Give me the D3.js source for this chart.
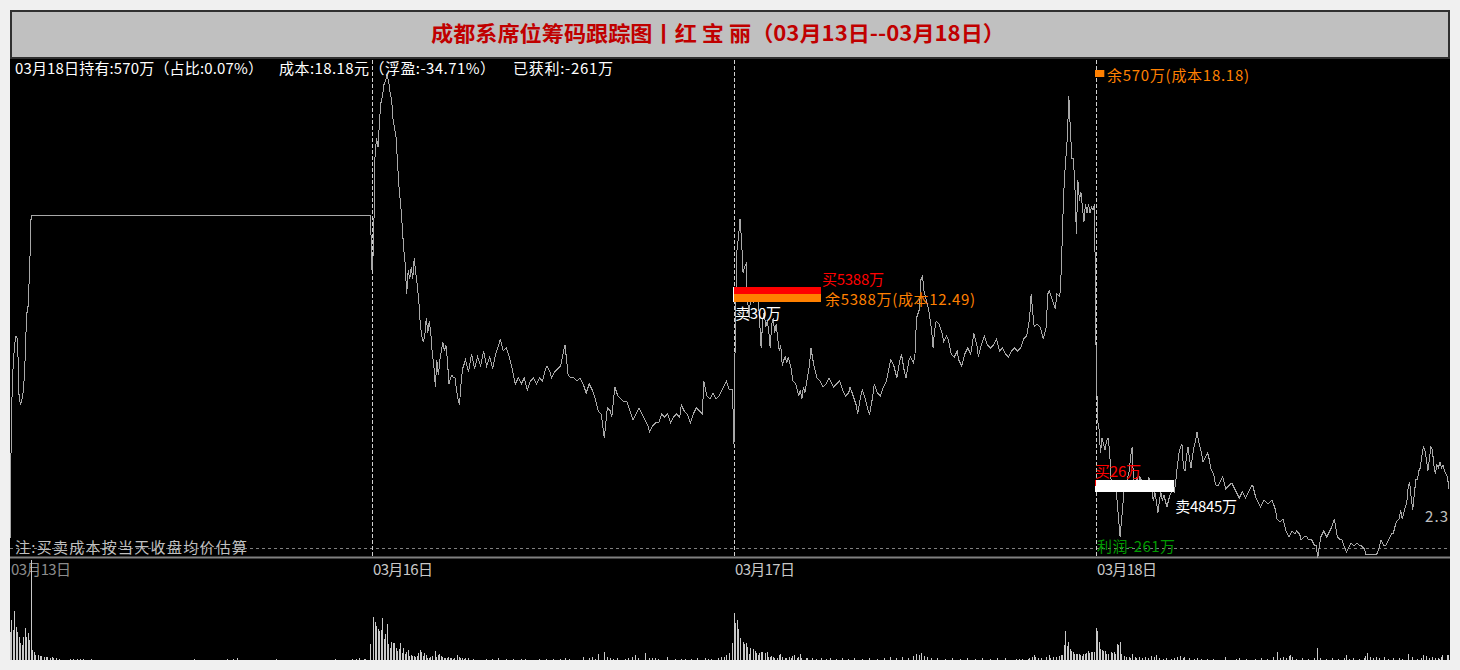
<!DOCTYPE html>
<html><head><meta charset="utf-8">
<script src="https://cdn.jsdelivr.net/npm/d3@7"></script>
<style>html,body{margin:0;padding:0;background:#F0F0F0;overflow:hidden}svg{display:block}</style>
</head><body><svg id="c" width="1460" height="670"></svg>
<script>
// ---------------- data ----------------
const titleText = "成都系席位筹码跟踪图丨红  宝  丽（03月13日--03月18日）";
const dayLabels = ["03月13日", "03月16日", "03月17日", "03月18日"];
const headerTexts = ["03月18日持有:570万（占比:0.07%）", "成本:18.18元（浮盈:-34.71%）", "已获利:-261万"];
const noteText = "注:买卖成本按当天收盘均价估算";

// minute-of-day, price (yuan)
const price0313 = [[0,11.68],[1,12.11],[2,12.25],[3,12.33],[4,12.36],[5,12.35],[6,12.16],[7,12.13],[8,12.15],[9,12.18],[10,12.28],[11,12.43],[12,12.46],[13,12.58],[14,12.76],[239,12.76]];
const price0316 = [[0,12.58],[1,12.65],[2,12.96],[3,13.02],[4,12.99],[5,13.08],[6,13.14],[7,13.16],[8,13.20],[9,13.21],[10,13.23],[11,13.21],[12,13.17],[13,13.15],[14,13.08],[15,13.05],[16,13.02],[17,12.93],[18,12.85],[19,12.80],[20,12.73],[21,12.65],[22,12.60],[23,12.50],[24,12.58],[25,12.55],[26,12.59],[27,12.55],[28,12.62],[29,12.57],[30,12.53],[31,12.48],[32,12.40],[33,12.36],[34,12.34],[35,12.36],[36,12.42],[37,12.37],[38,12.41],[39,12.37],[40,12.30],[41,12.26],[42,12.19],[43,12.28],[44,12.23],[45,12.28],[46,12.31],[47,12.34],[48,12.31],[49,12.33],[50,12.28],[51,12.20],[52,12.22],[53,12.23],[54,12.22],[55,12.22],[56,12.18],[57,12.15],[58,12.13],[59,12.20],[60,12.25],[62,12.28],[64,12.24],[66,12.30],[68,12.25],[70,12.29],[72,12.26],[74,12.31],[76,12.26],[78,12.29],[80,12.25],[82,12.30],[84,12.33],[85,12.35],[87,12.31],[89,12.32],[91,12.29],[93,12.25],[95,12.20],[97,12.22],[99,12.20],[101,12.22],[103,12.18],[105,12.21],[107,12.22],[109,12.20],[111,12.22],[113,12.21],[115,12.25],[116,12.26],[118,12.24],[119,12.22],[121,12.24],[123,12.25],[125,12.26],[127,12.31],[128,12.33],[129,12.28],[130,12.23],[132,12.22],[134,12.22],[136,12.21],[138,12.22],[140,12.20],[142,12.17],[144,12.20],[146,12.18],[148,12.15],[150,12.11],[152,12.10],[154,12.02],[156,12.12],[158,12.11],[159,12.09],[161,12.19],[163,12.16],[165,12.15],[167,12.14],[169,12.14],[171,12.11],[173,12.08],[175,12.10],[177,12.12],[179,12.10],[181,12.08],[183,12.06],[184,12.04],[186,12.06],[188,12.07],[190,12.07],[192,12.10],[194,12.09],[196,12.10],[198,12.07],[200,12.09],[202,12.10],[204,12.09],[205,12.13],[207,12.11],[209,12.10],[211,12.07],[213,12.10],[215,12.12],[217,12.11],[219,12.10],[220,12.21],[222,12.16],[224,12.15],[226,12.17],[228,12.15],[230,12.16],[231,12.17],[233,12.19],[234,12.20],[235,12.21],[237,12.18],[239,12.18]];
const price0317 = [[0,12.00],[1,12.45],[2,12.65],[3,12.69],[4,12.75],[5,12.68],[6,12.57],[7,12.59],[8,12.60],[9,12.48],[10,12.42],[11,12.49],[12,12.52],[13,12.47],[14,12.51],[15,12.52],[16,12.49],[17,12.41],[18,12.32],[19,12.41],[20,12.44],[21,12.39],[22,12.41],[23,12.38],[24,12.32],[25,12.40],[26,12.42],[27,12.37],[28,12.40],[29,12.35],[30,12.31],[31,12.33],[32,12.26],[33,12.28],[34,12.29],[35,12.27],[36,12.29],[37,12.27],[38,12.25],[39,12.21],[41,12.20],[43,12.16],[44,12.18],[45,12.15],[46,12.19],[47,12.17],[48,12.20],[50,12.26],[51,12.32],[53,12.26],[54,12.24],[55,12.22],[57,12.21],[59,12.19],[61,12.20],[63,12.22],[65,12.20],[66,12.19],[68,12.20],[70,12.21],[72,12.18],[74,12.16],[76,12.17],[77,12.19],[79,12.16],[81,12.13],[82,12.10],[84,12.16],[85,12.18],[87,12.15],[89,12.11],[90,12.10],[92,12.16],[93,12.20],[95,12.17],[97,12.16],[99,12.19],[101,12.21],[103,12.26],[104,12.28],[106,12.26],[108,12.22],[110,12.28],[111,12.30],[113,12.24],[114,12.22],[116,12.28],[117,12.29],[119,12.27],[120,12.30],[121,12.42],[123,12.45],[124,12.55],[125,12.56],[126,12.51],[127,12.49],[129,12.45],[131,12.38],[132,12.32],[133,12.38],[134,12.41],[136,12.40],[138,12.37],[139,12.34],[141,12.36],[142,12.35],[144,12.30],[146,12.29],[148,12.31],[149,12.28],[151,12.26],[153,12.30],[155,12.32],[157,12.30],[159,12.37],[161,12.33],[162,12.29],[164,12.33],[166,12.36],[168,12.33],[170,12.32],[172,12.33],[174,12.35],[176,12.31],[178,12.32],[180,12.30],[182,12.29],[184,12.31],[186,12.32],[188,12.31],[190,12.32],[192,12.35],[194,12.36],[196,12.42],[197,12.50],[199,12.39],[201,12.40],[203,12.39],[205,12.35],[206,12.37],[207,12.39],[208,12.50],[209,12.51],[211,12.48],[213,12.45],[214,12.50],[216,12.49],[217,12.58],[218,12.75],[219,12.88],[220,12.95],[221,13.02],[222,13.16],[223,13.05],[224,12.95],[225,12.95],[226,12.86],[227,12.70],[228,12.88],[229,12.81],[230,12.84],[231,12.79],[232,12.74],[233,12.80],[234,12.77],[235,12.80],[236,12.77],[237,12.79],[238,12.78],[239,12.80]];
const price0318 = [[0,12.33],[1,12.08],[2,12.05],[3,11.97],[4,12.02],[5,12.00],[6,11.98],[7,12.01],[8,12.02],[9,11.98],[10,11.88],[11,11.87],[12,11.86],[13,11.86],[14,11.81],[15,11.75],[16,11.69],[17,11.75],[18,11.81],[19,11.87],[20,11.85],[21,11.89],[22,11.91],[23,11.96],[24,11.99],[25,11.86],[26,11.87],[27,11.89],[28,11.87],[29,11.89],[30,11.88],[31,11.86],[32,11.88],[33,11.86],[34,11.87],[35,11.89],[36,11.87],[37,11.85],[38,11.81],[39,11.84],[40,11.81],[41,11.77],[42,11.81],[43,11.84],[44,11.81],[45,11.83],[46,11.81],[47,11.79],[48,11.81],[49,11.83],[50,11.84],[51,11.85],[52,11.84],[53,11.88],[54,11.93],[55,11.97],[56,11.99],[57,12.00],[58,11.92],[59,11.91],[60,11.96],[61,11.99],[62,11.95],[63,11.92],[64,11.96],[65,11.99],[66,12.01],[67,12.04],[68,12.01],[69,11.99],[70,11.97],[71,11.94],[72,11.95],[73,11.96],[74,11.97],[75,11.95],[76,11.92],[77,11.91],[78,11.90],[79,11.87],[80,11.86],[81,11.86],[82,11.87],[83,11.88],[84,11.89],[85,11.87],[86,11.85],[88,11.86],[90,11.87],[91,11.86],[93,11.84],[95,11.82],[97,11.84],[99,11.82],[100,11.83],[102,11.85],[103,11.86],[104,11.86],[106,11.82],[107,11.81],[109,11.79],[111,11.81],[112,11.81],[114,11.80],[116,11.81],[117,11.81],[119,11.78],[120,11.75],[122,11.74],[124,11.75],[126,11.71],[128,11.69],[130,11.71],[132,11.70],[133,11.71],[135,11.70],[136,11.68],[138,11.69],[140,11.69],[141,11.68],[143,11.68],[145,11.66],[146,11.66],[147,11.62],[149,11.69],[151,11.71],[153,11.69],[155,11.71],[156,11.72],[158,11.75],[160,11.69],[162,11.68],[163,11.68],[166,11.64],[169,11.67],[171,11.66],[173,11.67],[175,11.66],[176,11.66],[178,11.65],[179,11.63],[181,11.63],[183,11.63],[186,11.63],[188,11.66],[189,11.68],[191,11.66],[192,11.66],[194,11.68],[196,11.70],[197,11.70],[199,11.74],[201,11.75],[202,11.78],[203,11.75],[205,11.79],[206,11.80],[207,11.86],[208,11.87],[209,11.82],[210,11.78],[211,11.83],[212,11.88],[213,11.88],[214,11.91],[215,11.92],[216,11.96],[217,11.99],[218,11.98],[219,11.95],[220,11.91],[221,11.95],[222,11.99],[223,11.98],[224,11.93],[225,11.90],[226,11.93],[227,11.92],[228,11.94],[229,11.92],[230,11.93],[231,11.91],[232,11.90],[233,11.89],[234,11.85]];

// minute-of-day, volume (万股)
const vol0313 = [[0,280],[1,400],[2,300],[3,490],[4,330],[5,280],[6,230],[7,170],[8,150],[9,230],[10,320],[11,230],[12,270],[13,200],[14,1000],[15,100],[16,80],[17,50],[19,50],[20,40],[21,40],[23,30],[24,30],[25,30],[27,20],[28,30],[29,20],[31,20],[33,10],[40,10],[42,10],[45,10],[47,10],[49,10],[54,10],[122,10],[144,10],[148,10],[151,20],[177,10],[216,10],[227,10],[230,10],[232,20],[235,10],[236,10],[239,160]];
const vol0316 = [[1,430],[2,380],[3,340],[4,310],[5,290],[6,300],[7,420],[8,210],[9,260],[10,360],[11,160],[12,120],[13,180],[14,170],[15,170],[16,120],[17,90],[18,110],[19,170],[20,70],[21,120],[22,60],[23,80],[24,100],[25,40],[26,50],[27,40],[28,40],[29,30],[30,40],[31,70],[32,100],[33,80],[34,40],[35,70],[36,50],[37,20],[38,20],[39,30],[40,40],[42,90],[43,30],[44,50],[45,60],[46,40],[47,30],[48,20],[49,20],[50,20],[51,30],[52,20],[53,20],[54,10],[55,20],[57,50],[58,30],[59,20],[60,20],[61,10],[62,20],[64,20],[67,10],[76,10],[80,10],[84,20],[89,10],[94,10],[99,10],[102,10],[111,10],[116,10],[120,10],[125,10],[128,20],[131,10],[140,30],[144,20],[146,30],[148,10],[150,60],[154,80],[156,30],[158,20],[160,10],[163,20],[168,10],[170,20],[173,30],[175,50],[177,20],[181,70],[184,20],[186,20],[188,20],[190,10],[196,30],[201,10],[205,10],[208,10],[212,10],[216,20],[221,20],[223,10],[225,10],[230,20],[232,30],[234,30],[235,50],[237,70],[239,170]];
const vol0317 = [[0,470],[1,370],[2,400],[3,310],[4,220],[6,180],[7,160],[8,170],[9,130],[10,60],[11,120],[13,110],[14,90],[15,70],[16,50],[17,70],[18,80],[19,80],[21,70],[22,80],[23,30],[24,30],[25,40],[26,30],[27,20],[29,20],[30,50],[31,60],[32,30],[34,20],[35,20],[37,30],[38,20],[39,40],[40,50],[42,20],[43,30],[44,60],[45,20],[48,20],[49,20],[52,20],[55,10],[58,20],[61,10],[64,20],[68,10],[72,20],[76,10],[80,20],[85,10],[90,20],[95,10],[100,20],[104,30],[108,20],[112,30],[116,20],[119,40],[121,60],[123,50],[124,70],[126,40],[128,30],[131,20],[135,20],[140,10],[145,20],[150,10],[155,20],[160,10],[165,20],[170,10],[175,20],[180,20],[187,10],[189,10],[191,10],[195,10],[196,20],[198,30],[199,50],[200,30],[202,20],[204,20],[207,30],[209,50],[210,20],[212,30],[214,30],[216,40],[217,50],[218,50],[219,150],[220,290],[221,140],[222,180],[223,110],[224,90],[225,80],[226,60],[227,60],[228,60],[229,60],[230,50],[231,40],[232,60],[233,60],[234,70],[235,90],[236,70],[237,80],[238,80],[239,80]];
const vol0318 = [[0,320],[1,290],[2,180],[3,110],[4,100],[5,90],[6,90],[7,60],[8,60],[10,80],[11,70],[12,80],[13,60],[14,160],[15,150],[16,180],[17,60],[19,40],[20,30],[22,30],[23,20],[24,60],[26,30],[27,20],[29,30],[31,20],[33,30],[35,20],[37,40],[39,30],[40,50],[42,20],[45,10],[47,20],[50,10],[52,20],[54,30],[56,40],[58,20],[59,30],[62,20],[65,10],[67,20],[70,10],[74,10],[78,10],[86,30],[93,10],[95,20],[100,10],[106,10],[110,20],[114,10],[118,30],[120,80],[122,20],[124,30],[126,20],[128,40],[129,50],[130,30],[133,10],[137,20],[141,10],[145,20],[147,120],[149,20],[153,10],[157,20],[161,10],[165,20],[166,50],[168,10],[171,20],[175,10],[178,20],[179,40],[180,70],[182,30],[184,20],[186,30],[188,20],[191,30],[194,10],[197,20],[201,20],[203,10],[207,60],[210,30],[213,10],[216,20],[217,50],[219,40],[221,20],[223,30],[225,20],[227,20],[228,10],[229,30],[230,50],[233,50],[234,50]];

// position changes (万) per day, index = day
const buyAmount  = [0, 0, 5388, 26];
const sellAmount = [0, 0, 30, 4845];
const holdAmount = [0, 0, 5388, 570];
const holdCost   = [null, null, 12.49, 18.18];
const tradePrice = [null, null, 12.49, 11.86];
const profitText = "利润-261万";
const lastPriceText = "2.3";

// ---------------- drawing ----------------
const svg = d3.select("#c");
const FONT = "'Noto Sans CJK SC','Noto Sans',sans-serif";
const W = 1460, H = 670;
const L = 10, R = 1450, T = 59, B = 660, SEP = 557;

svg.append("rect").attr("x",0).attr("y",0).attr("width",W).attr("height",H).attr("fill","#F0F0F0");
svg.append("rect").attr("x",L).attr("y",T).attr("width",R-L).attr("height",B-T).attr("fill","#000");
svg.append("rect").attr("x",L+1).attr("y",11).attr("width",R-L-2).attr("height",T-12)
  .attr("fill","#C0C0C0").attr("stroke","#303030").attr("stroke-width",2);

svg.append("text").attr("x",431).attr("y",41).attr("fill","#C00000")
  .attr("font-family",FONT).attr("font-size",21).attr("font-weight","bold")
  .attr("textLength",574).attr("lengthAdjust","spacingAndGlyphs").text(titleText);

const defs = svg.append("defs");
defs.append("clipPath").attr("id","clip").append("rect").attr("x",L).attr("y",T).attr("width",R-L).attr("height",B-T);
const g = svg.append("g").attr("clip-path","url(#clip)");

const x = d3.scaleLinear().domain([0, 960]).range([10, 1458]);
const y = d3.scaleLinear().domain([11.6233, 13.28]).range([SEP, 60]);
const yv = d3.scaleLinear().domain([0, 1020]).range([B, 558]);
const barW = d3.scaleLinear().domain([0, 5388]).range([0, 88]);

const priceDays = [price0313, price0316, price0317, price0318];
const volDays = [vol0313, vol0316, vol0317, vol0318];
const allPrice = priceDays.flatMap((d,i)=>d.map(p=>({m:i*240+p[0], v:p[1]})));
const allVol = volDays.flatMap((d,i)=>d.map(p=>({m:i*240+p[0], v:p[1]})));

// horizontal dashed reference + separator
g.append("line").attr("x1",L).attr("x2",R).attr("y1",548.5).attr("y2",548.5)
  .attr("stroke","#808080").attr("stroke-dasharray","3,3");
g.append("line").attr("x1",L).attr("x2",R).attr("y1",557.5).attr("y2",557.5)
  .attr("stroke","#808080").attr("stroke-width",2);

// day separators
[1,2,3].forEach(d=>{
  const xx = Math.round(x(d*240)) + 0.5;
  g.append("line").attr("x1",xx).attr("x2",xx).attr("y1",T+1).attr("y2",SEP)
    .attr("stroke","#D0D0D0").attr("stroke-dasharray","4,2");
});

// date labels
dayLabels.forEach((t,i)=>{
  g.append("text").attr("x", x(i*240)+1).attr("y",575)
    .attr("fill", i===0 ? "#8C8C8C" : "#C8C8C8")
    .attr("font-family",FONT).attr("font-size",15).attr("textLength",60).text(t);
});

// volume bars
g.selectAll("rect.vol").data(allVol).enter().append("rect").attr("class","vol")
  .attr("x", d=>Math.floor(x(d.m))).attr("width",1)
  .attr("y", d=>Math.round(yv(d.v))).attr("height", d=>B-Math.round(yv(d.v)))
  .attr("fill","#C8C8C8").attr("shape-rendering","crispEdges");

// price line
const line = d3.line().x(d=>x(d.m)).y(d=>y(d.v));
g.append("path").datum(allPrice).attr("d",line).attr("fill","none")
  .attr("stroke","#A8A8A8").attr("stroke-width",1).attr("shape-rendering","crispEdges");

// trade bars & labels
function txt(xp, yp, s, col, len){
  const t = g.append("text").attr("x",xp).attr("y",yp).attr("fill",col)
    .attr("font-family",FONT).attr("font-size",15).text(s);
  if (len) t.attr("textLength",len);
  return t;
}
// 03/17
{
  const d = 2, x0 = Math.round(x(d*240)) - 1;
  const yc = y(holdCost[d]);
  g.append("rect").attr("x",x0).attr("y",yc-10).attr("width",barW(buyAmount[d])).attr("height",7).attr("fill","#FF0000");
  g.append("rect").attr("x",x0).attr("y",yc-3).attr("width",barW(holdAmount[d])).attr("height",8).attr("fill","#FF8000");
  g.append("rect").attr("x",x0).attr("y",yc-10).attr("width",Math.max(1,barW(sellAmount[d]))).attr("height",15).attr("fill","#FFFFFF");
  txt(x0+barW(buyAmount[d])+1, yc-12, "买"+buyAmount[d]+"万", "#FF0000", 62);
  txt(x0+barW(holdAmount[d])+4, yc+8, "余"+holdAmount[d]+"万(成本"+holdCost[d]+")", "#FF8000", 150);
  txt(x0+2, yc+22, "卖"+sellAmount[d]+"万", "#FFFFFF", 46);
}
// 03/18
{
  const d = 3, x0 = Math.round(x(d*240)) - 1;
  const yt = y(tradePrice[d]);
  g.append("rect").attr("x",x0).attr("y",yt-6).attr("width",barW(sellAmount[d])).attr("height",12).attr("fill","#FFFFFF");
  g.append("rect").attr("x",x0).attr("y",yt-6).attr("width",Math.max(1,barW(buyAmount[d]))).attr("height",6).attr("fill","#FF0000");
  txt(x0, yt-9, "买"+buyAmount[d]+"万", "#FF0000", 46);
  txt(x0+barW(sellAmount[d])+1, yt+26, "卖"+sellAmount[d]+"万", "#FFFFFF", 62);
  // remaining holding, cost above visible range -> clamp to top
  const yh = Math.max(y(holdCost[d]), 70);
  g.append("rect").attr("x",x0).attr("y",yh).attr("width",barW(holdAmount[d])).attr("height",7).attr("fill","#FF8000");
  txt(x0+12, yh+11, "余"+holdAmount[d]+"万(成本"+holdCost[d]+")", "#FF8000", 142);
  txt(x0+2, 552, profitText, "#009900", 78);
  txt(1425, 522, lastPriceText, "#C0C0C0", 23);
}

// header and note
txt(15, 74, headerTexts[0], "#FFFFFF", 248);
txt(279, 74, headerTexts[1], "#FFFFFF", 216);
txt(513, 74, headerTexts[2], "#FFFFFF", 100);
txt(15, 553, noteText, "#C0C0C0", 232);
</script>
</body></html>
